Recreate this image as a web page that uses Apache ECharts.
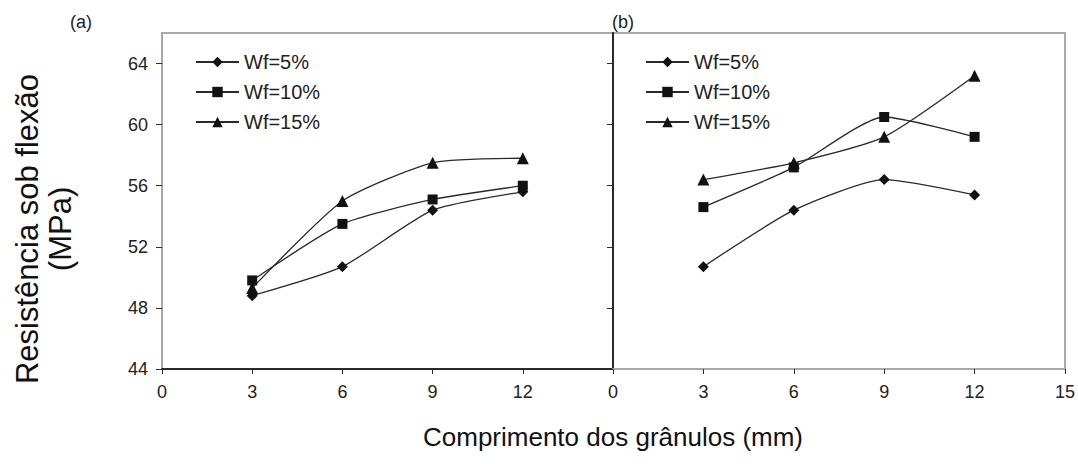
<!DOCTYPE html>
<html>
<head>
<meta charset="utf-8">
<script src="https://cdn.jsdelivr.net/npm/echarts@6/dist/echarts.min.js"></script>
<style>
html,body{margin:0;padding:0;background:#fff;}
#c{width:1078px;height:464px;}
</style>
</head>
<body>
<div id="c"></div>
<script>
// ---- data ----
const xValues = [3, 6, 9, 12];
const seriesNames = ['Wf=5%', 'Wf=10%', 'Wf=15%'];
const aWf5 = [48.8, 50.7, 54.4, 55.6];
const aWf10 = [49.8, 53.5, 55.1, 56.0];
const aWf15 = [49.3, 55.0, 57.5, 57.8];
const bWf5 = [50.7, 54.4, 56.4, 55.4];
const bWf10 = [54.6, 57.2, 60.5, 59.2];
const bWf15 = [56.4, 57.5, 59.2, 63.2];
const yTicks = [44, 48, 52, 56, 60, 64];
const xTicksA = [0, 3, 6, 9, 12];
const xTicksB = [0, 3, 6, 9, 12, 15];
const panelLabels = ['(a)', '(b)'];
const xTitle = 'Comprimento dos grânulos (mm)';
const yTitle = 'Resistência sob flexão\n(MPa)';

const FONT = 'Liberation Sans, Arial, sans-serif';
const symbols = ['diamond', 'rect', 'triangle'];
const symbolSizes = [11, 10, 12];
const dark = '#2a2a2a';
const gray = '#a8a8a8';

function pairs(vals) { return xValues.map((x, i) => [x, vals[i]]); }

function mkSeries(vals, idx, axisIdx) {
  return {
    name: seriesNames[idx],
    type: 'line',
    xAxisIndex: axisIdx,
    yAxisIndex: axisIdx,
    data: pairs(vals),
    smooth: 0.2,
    symbol: symbols[idx],
    symbolSize: symbolSizes[idx],
    showSymbol: true,
    lineStyle: { color: dark, width: 1.3 },
    itemStyle: { color: '#111', borderWidth: 0 },
    emphasis: { disabled: true },
    animation: false
  };
}

function xAxis(grid, ticks, lineColor) {
  return {
    type: 'value', gridIndex: grid, min: 0, max: 15, interval: 3,
    axisLine: { show: true, lineStyle: { color: lineColor, width: 2 } },
    axisTick: { show: true, inside: false, length: 5, lineStyle: { color: dark, width: 1 }, customValues: ticks },
    axisLabel: { color: '#222', fontSize: 18, fontFamily: FONT, margin: 14, customValues: ticks },
    splitLine: { show: false }
  };
}
function yAxis(grid, showLabels, lineColor) {
  return {
    type: 'value', gridIndex: grid, min: 44, max: 66, interval: 4,
    axisLine: { show: true, onZero: false, lineStyle: { color: lineColor, width: 2 } },
    axisTick: { show: true, inside: false, length: 6, lineStyle: { color: dark, width: 1 }, customValues: yTicks },
    axisLabel: { show: showLabels, color: '#222', fontSize: 18, fontFamily: FONT, margin: 14, customValues: yTicks },
    splitLine: { show: false }
  };
}

const legendBase = {
  orient: 'vertical', itemWidth: 43, itemHeight: 13, itemGap: 10,
  textStyle: { fontSize: 20, fontFamily: FONT, color: '#222', padding: [0, 0, 0, 0] },
  data: seriesNames, selectedMode: false, top: 47
};

const chart = echarts.init(document.getElementById('c'), null, { renderer: 'svg' });
chart.setOption({
  animation: false,
  backgroundColor: '#fff',
  grid: [
    { left: 162, top: 33, width: 451, height: 336, show: true, backgroundColor: '#fff', borderColor: gray, borderWidth: 2 },
    { left: 613, top: 33, width: 452, height: 336, show: true, backgroundColor: '#fff', borderColor: gray, borderWidth: 2 }
  ],
  xAxis: [xAxis(0, xTicksA, dark), xAxis(1, xTicksB, gray)],
  yAxis: [
    yAxis(0, true, gray),
    yAxis(1, false, dark),
    { type: 'value', gridIndex: 1, position: 'right', min: 44, max: 66,
      axisLine: { show: true, lineStyle: { color: dark, width: 2 } },
      axisTick: { show: false }, axisLabel: { show: false }, splitLine: { show: false } }
  ],
  legend: [
    Object.assign({}, legendBase, { left: 190 }),
    Object.assign({}, legendBase, { left: 640 })
  ],
  title: [
    { text: panelLabels[0], left: 65, top: 8, textStyle: { fontSize: 18, fontWeight: 'normal', fontFamily: FONT, color: '#222' } },
    { text: panelLabels[1], left: 607, top: 8, textStyle: { fontSize: 18, fontWeight: 'normal', fontFamily: FONT, color: '#222' } }
  ],
  graphic: [
    { type: 'text', x: 613, y: 437, style: { text: xTitle, fontSize: 26, fontFamily: FONT, fill: '#111', textAlign: 'center', textVerticalAlign: 'middle' } },
    { type: 'text', x: 44, y: 229, rotation: Math.PI / 2, style: { text: yTitle, fontSize: 31, lineHeight: 33, fontFamily: FONT, fill: '#111', textAlign: 'center', textVerticalAlign: 'middle' } }
  ],
  series: [
    mkSeries(aWf5, 0, 0), mkSeries(aWf10, 1, 0), mkSeries(aWf15, 2, 0),
    mkSeries(bWf5, 0, 1), mkSeries(bWf10, 1, 1), mkSeries(bWf15, 2, 1)
  ]
});
</script>
</body>
</html>
